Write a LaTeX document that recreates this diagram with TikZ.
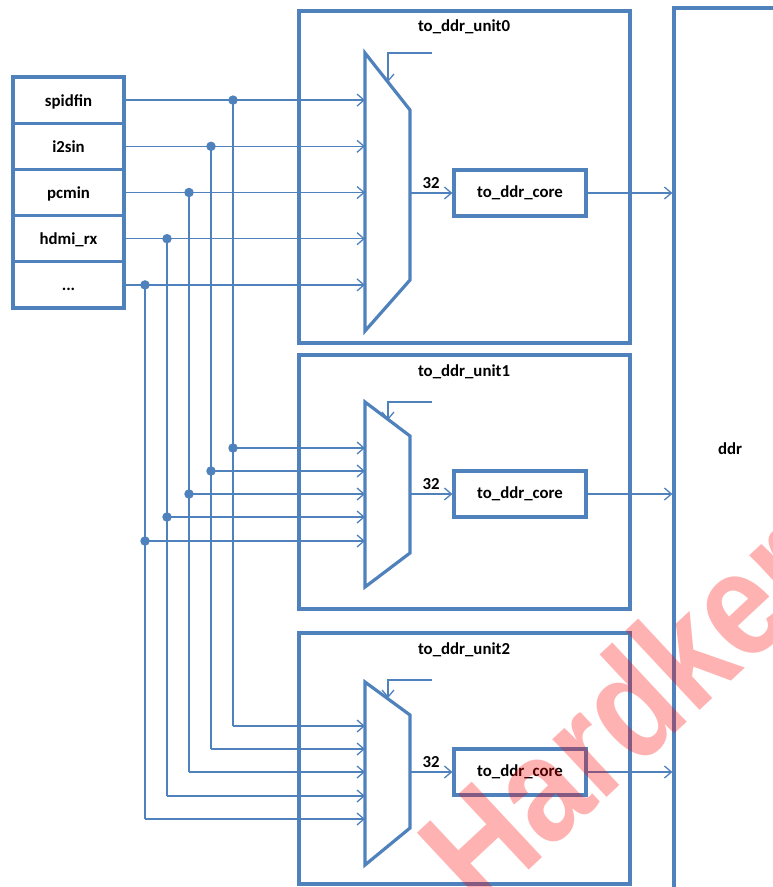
\documentclass[tikz,border=0pt]{standalone}
\usepackage{fontspec}
\setmainfont{Carlito}
\newfontfamily\wmfont{Liberation Sans}
\usetikzlibrary{arrows.meta, positioning}
\definecolor{dblue}{RGB}{79,129,189}

\begin{document}
\begin{tikzpicture}[
  x=1pt, y=-1pt,
  font=\fontsize{16.8}{19}\selectfont\bfseries,
  >={Straight Barb[length=7pt, width=12pt]},
  blk/.style={draw=dblue, line width=3.2pt},
  wire/.style={draw=dblue, line width=1.3pt},
  inbox/.style={blk, outer sep=0pt, minimum width=111pt, minimum height=46.2pt,
    inner sep=0pt, text height=12pt, text depth=0pt},
  unit/.style={blk, minimum width=331pt, inner sep=0pt},
  core/.style={blk, minimum width=132pt, minimum height=46pt, inner sep=0pt},
  dot/.style={circle, fill=dblue, inner sep=0pt, minimum size=9.5pt},
  wmark/.style={text=red, opacity=0.3, rotate=43, xscale=0.85,
    font=\wmfont\bfseries\fontsize{150}{150}\selectfont}
]
\useasboundingbox (0,0) rectangle (773,887);
% input stack on the left, one row per source
\node[inbox] (in0) at (68.5,100.1) {spidfin};
\node[inbox, below=0pt of in0] (in1) {i2sin};
\node[inbox, below=0pt of in1] (in2) {pcmin};
\node[inbox, below=0pt of in2] (in3) {hdmi\_rx};
\node[inbox, below=0pt of in3] (in4) {...};
% the three units and the ddr block
\node[unit, minimum height=332pt] (u0) at (464.5,177) {};
\node[unit, minimum height=254pt] (u1) at (464.5,482) {};
\node[unit, minimum height=251pt] (u2) at (464.5,758.5) {};
\node (t0) at (464,27) {to\_ddr\_unit0};
\node (t1) at (464,372) {to\_ddr\_unit1};
\node (t2) at (464,650) {to\_ddr\_unit2};
\node[blk, minimum width=112pt, minimum height=882pt] (ddr) at (730,449) {ddr};
\node[core] (c0) at (520,193) {to\_ddr\_core};
\node[core] (c1) at (520,494) {to\_ddr\_core};
\node[core] (c2) at (520,772) {to\_ddr\_core};
% muxes: the slant of each one differs a little, so the corners are given
\draw[blk] (365,53) coordinate (m0) -- (410,110) -- (410,280) -- (365,331) -- cycle;
\draw[blk] (365,402) coordinate (m1) -- (410,436) -- (410,553) -- (365,587) -- cycle;
\draw[blk] (365,682) coordinate (m2) -- (410,715) -- (410,828) -- (365,865) -- cycle;
\coordinate (m0o) at (410,193);
\coordinate (m1o) at (410,494);
\coordinate (m2o) at (410,772);
% select lines, ending on the slanted top edge
\coordinate (s0) at (432,53);  \coordinate (s0e) at (388,82);
\coordinate (s1) at (432,402); \coordinate (s1e) at (388,420);
\coordinate (s2) at (432,680); \coordinate (s2e) at (388,698);
\draw[wire,->] (s0) -| (s0e);
\draw[wire,->] (s1) -| (s1e);
\draw[wire,->] (s2) -| (s2e);
\draw[wire,->] (m0o) -- node[above] {32} (c0);
\draw[wire,->] (m1o) -- node[above] {32} (c1);
\draw[wire,->] (m2o) -- node[above] {32} (c2);
\draw[wire,->] (c0) -- (c0 -| ddr.west);
\draw[wire,->] (c1) -- (c1 -| ddr.west);
\draw[wire,->] (c2) -- (c2 -| ddr.west);
% fan-out of each source to the three muxes
\foreach \i/\x/\yb/\yc in {0/233/448/726, 1/211/471/749, 2/189/494/772, 3/167/517/796, 4/145/541/819} {
  \node[dot] (ja\i) at (\x,0 |- in\i.east) {};
  \node[dot] (jb\i) at (\x,\yb) {};
  \coordinate (jc\i) at (\x,\yc);
  \draw[wire,->] (in\i.east) -- (in\i.east -| m0);
  \draw[wire] (ja\i.center) -- (jc\i);
  \draw[wire,->] (jb\i.center) -- (jb\i.center -| m1);
  \draw[wire,->] (jc\i) -- (jc\i -| m2);
}
\node[wmark] (wm) at (621,711) {Hardker};
\end{tikzpicture}
\end{document}
